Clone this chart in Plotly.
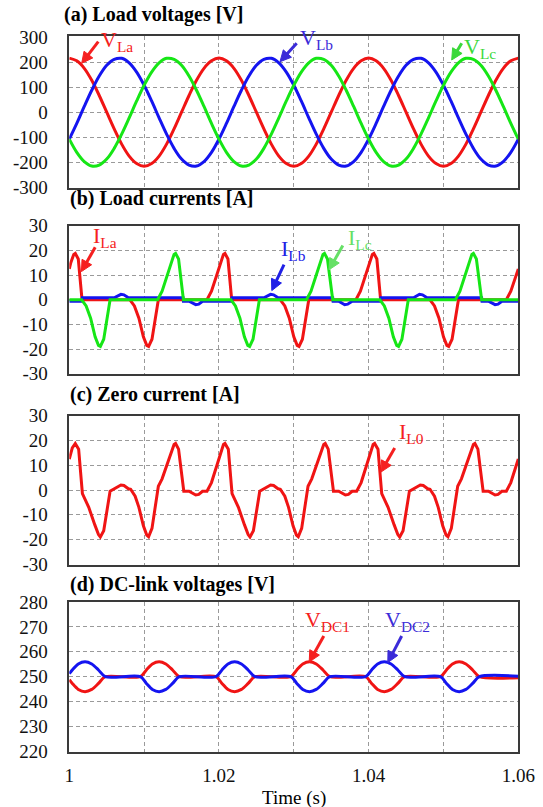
import math
import plotly.graph_objects as go

# ---------------- data (time in ms after t = 1 s) ----------------
t_v_ms = [0, 1, 2, 3, 4, 5, 6, 7, 8, 9, 10, 11, 12, 13, 14, 15, 16, 17, 18, 19,
          20, 21, 22, 23, 24, 25, 26, 27, 28, 29, 30, 31, 32, 33, 34, 35, 36, 37, 38, 39,
          40, 41, 42, 43, 44, 45, 46, 47, 48, 49, 50, 51, 52, 53, 54, 55, 56, 57, 58, 59, 60]
v_la = [217, 206, 176, 128, 67, 0, -67, -128, -176, -206, -217, -206, -176, -128, -67, 0, 67, 128, 176, 206,
        217, 206, 176, 128, 67, 0, -67, -128, -176, -206, -217, -206, -176, -128, -67, 0, 67, 128, 176, 206,
        217, 206, 176, 128, 67, 0, -67, -128, -176, -206, -217, -206, -176, -128, -67, 0, 67, 128, 176, 206, 217]
v_lb = [-108, -45, 23, 88, 145, 188, 212, 216, 198, 161, 108, 45, -23, -88, -145, -188, -212, -216, -198, -161,
        -108, -45, 23, 88, 145, 188, 212, 216, 198, 161, 108, 45, -23, -88, -145, -188, -212, -216, -198, -161,
        -108, -45, 23, 88, 145, 188, 212, 216, 198, 161, 108, 45, -23, -88, -145, -188, -212, -216, -198, -161, -108]
v_lc = [-108, -161, -198, -216, -212, -188, -145, -88, -23, 45, 108, 161, 198, 216, 212, 188, 145, 88, 23, -45,
        -108, -161, -198, -216, -212, -188, -145, -88, -23, 45, 108, 161, 198, 216, 212, 188, 145, 88, 23, -45,
        -108, -161, -198, -216, -212, -188, -145, -88, -23, 45, 108, 161, 198, 216, 212, 188, 145, 88, 23, -45, -108]

t_ila_ms = [0, 0.2, 0.6, 0.8, 1.2, 1.7, 8.1, 8.7, 9.3, 9.9, 10.35, 10.6, 11.05, 11.9,
            18.4, 19.0, 19.6, 20.2, 20.6, 20.8, 21.2, 21.7, 28.2, 28.8, 29.4, 30.0, 30.45, 30.7, 31.15, 32.0,
            38.3, 38.9, 39.5, 40.1, 40.5, 40.7, 41.1, 41.6, 48.2, 48.8, 49.4, 50.0, 50.45, 50.7, 51.15, 52.0,
            58.4, 59.0, 59.6, 60.0]
i_la = [12.5, 15, 18.4, 18.8, 16.5, 0, 0, -2.5, -7.5, -15, -18.5, -18.9, -16, 0,
        0, 3.5, 9, 15, 18.4, 18.8, 16.5, 0, 0, -2.5, -7.5, -15, -18.5, -18.9, -16, 0,
        0, 3.5, 9, 15, 18.4, 18.8, 16.5, 0, 0, -2.5, -7.5, -15, -18.5, -18.9, -16, 0,
        0, 3.5, 9, 12.5]

t_ilb_ms = [0, 1.7, 1.75, 6.0, 6.9, 7.3, 7.9, 15.2, 15.25, 16.0, 16.9, 17.3, 17.8, 21.7,
            21.75, 26.0, 26.9, 27.3, 27.9, 35.2, 35.25, 36.0, 36.8, 37.2, 37.8, 41.6,
            41.65, 46.0, 46.8, 47.2, 47.8, 55.1, 55.15, 56.0, 56.9, 57.3, 57.8, 60.0]
i_lb = [-0.6, -0.6, 0.8, 0.8, 2.2, 2.0, 0.8, 0.8, -0.6, -0.6, -2.0, -1.8, -0.6, -0.6,
        0.8, 0.8, 2.2, 2.0, 0.8, 0.8, -0.6, -0.6, -2.0, -1.8, -0.6, -0.6,
        0.8, 0.8, 2.2, 2.0, 0.8, 0.8, -0.6, -0.6, -2.0, -1.8, -0.6, -0.6]

t_ilc_ms = [0, 1.65, 2.25, 2.85, 3.45, 3.9, 4.15, 4.6, 5.45, 11.8, 12.4, 13.0, 13.6, 14.0, 14.2, 14.6, 15.25,
            21.6, 22.2, 22.8, 23.4, 23.85, 24.1, 24.55, 25.4, 31.7, 32.3, 32.9, 33.5, 33.9, 34.1, 34.5, 35.2,
            41.5, 42.1, 42.7, 43.3, 43.75, 44.0, 44.45, 45.3, 51.6, 52.2, 52.8, 53.4, 53.8, 54.0, 54.4, 55.1, 60.0]
i_lc = [0, 0, -2.5, -7.5, -15, -18.5, -18.9, -16, 0, 0, 3.5, 9, 15, 18.4, 18.8, 16.5, 0,
        0, -2.5, -7.5, -15, -18.5, -18.9, -16, 0, 0, 3.5, 9, 15, 18.4, 18.8, 16.5, 0,
        0, -2.5, -7.5, -15, -18.5, -18.9, -16, 0, 0, 3.5, 9, 15, 18.4, 18.8, 16.5, 0, 0]

t_il0_ms = [0, 0.4, 0.8, 1.25, 1.75, 2.6, 3.4, 3.9, 4.15, 4.6, 5.45, 6.0, 6.9, 7.3, 7.9, 8.2, 8.8, 9.3, 9.9,
            10.35, 10.6, 11.05, 11.9, 12.4, 13.0, 13.6, 14.0, 14.2, 14.6, 15.3, 16.0, 16.9, 17.3, 17.8, 18.4,
            19.0, 19.6, 20.2,
            20.6, 20.8, 21.25, 21.75, 22.6, 23.4, 23.9, 24.15, 24.6, 25.45, 26.0, 26.9, 27.3, 27.9, 28.2, 28.8,
            29.3, 29.9, 30.35, 30.6, 31.05, 31.9, 32.4, 33.0, 33.6, 34.0, 34.2, 34.6, 35.3, 36.0, 36.9, 37.3,
            37.8, 38.4, 39.0, 39.6, 40.2,
            40.6, 40.8, 41.25, 41.75, 42.6, 43.4, 43.9, 44.15, 44.6, 45.45, 46.0, 46.9, 47.3, 47.9, 48.2, 48.8,
            49.3, 49.9, 50.35, 50.6, 51.05, 51.9, 52.4, 53.0, 53.6, 54.0, 54.2, 54.6, 55.3, 56.0, 56.9, 57.3,
            57.8, 58.4, 59.0, 59.6, 60.0]
i_l0 = [12.5, 17, 18.8, 16.5, -1.5, -7, -14, -18, -19, -16.5, -0.5, 0.5, 2.0, 1.8, 0.5, 0.3, -2.5, -7, -14.5,
        -18.2, -18.9, -15.5, 1.5, 4.5, 10, 15.5, 18.4, 18.8, 16.5, -0.5, -0.5, -2.0, -1.8, -0.5, -0.5,
        3.0, 8.5, 14.5,
        18.4, 18.8, 16.5, -1.5, -7, -14, -18, -19, -16.5, -0.5, 0.5, 2.0, 1.8, 0.5, 0.3, -2.5,
        -7, -14.5, -18.2, -18.9, -15.5, 1.5, 4.5, 10, 15.5, 18.4, 18.8, 16.5, -0.5, -0.5, -2.0, -1.8,
        -0.5, -0.5, 3.0, 8.5, 14.5,
        18.4, 18.8, 16.5, -1.5, -7, -14, -18, -19, -16.5, -0.5, 0.5, 2.0, 1.8, 0.5, 0.3, -2.5,
        -7, -14.5, -18.2, -18.9, -15.5, 1.5, 4.5, 10, 15.5, 18.4, 18.8, 16.5, -0.5, -0.5, -2.0, -1.8,
        -0.5, -0.5, 3.0, 8.5, 12.5]

t_dc_ms = [0, 0.4, 1.2, 2.1, 3.0, 3.9, 4.8, 9.5, 10.3, 11.1, 12.0, 12.9, 13.8, 14.7,
           19.6, 20.4, 21.2, 22.1, 23.0, 23.9, 24.8, 29.6, 30.4, 31.2, 32.1, 33.0, 33.9, 34.8,
           39.6, 40.4, 41.2, 42.1, 43.0, 43.9, 44.8, 49.6, 50.4, 51.2, 52.1, 53.0, 53.9, 54.8, 60.0]
v_dc1 = [248.8, 247.3, 244.9, 244, 244.9, 247.3, 250, 250, 252.7, 255.1, 256, 255.1, 252.7, 250,
         250, 247.3, 244.9, 244, 244.9, 247.3, 250, 250, 252.7, 255.1, 256, 255.1, 252.7, 250,
         250, 247.3, 244.9, 244, 244.9, 247.3, 250, 250, 252.7, 255.1, 256, 255.1, 252.7, 250, 249.6]
v_dc2 = [251.2, 252.7, 255.1, 256, 255.1, 252.7, 250, 250, 247.3, 244.9, 244, 244.9, 247.3, 250,
         250, 252.7, 255.1, 256, 255.1, 252.7, 250, 250, 247.3, 244.9, 244, 244.9, 247.3, 250,
         250, 252.7, 255.1, 256, 255.1, 252.7, 250, 250, 247.3, 244.9, 244, 244.9, 247.3, 250, 250.2]

x_label_ticks = [1.00, 1.02, 1.04, 1.06]
x_label_text = ["1", "1.02", "1.04", "1.06"]
ya_ticks = [-300, -200, -100, 0, 100, 200, 300]
yb_ticks = [-30, -20, -10, 0, 10, 20, 30]
yd_ticks = [220, 230, 240, 250, 260, 270, 280]


def sec(ms_list):
    return [1 + m / 1000.0 for m in ms_list]


RED = "#f01414"
BLUE = "#1414f0"
GREEN = "#16e616"
FONT = "Liberation Serif"
W, H = 543, 807

fig = go.Figure()

def line(x, y, color, xa, ya, shape="linear", smooth=None):
    ln = dict(color=color, width=3, shape=shape)
    if smooth is not None:
        ln["smoothing"] = smooth
    fig.add_trace(go.Scatter(x=x, y=y, mode="lines", line=ln, xaxis=xa, yaxis=ya,
                             showlegend=False, hoverinfo="skip"))

line(sec(t_v_ms), v_la, RED, "x", "y", "spline", 1.0)
line(sec(t_v_ms), v_lb, BLUE, "x", "y", "spline", 1.0)
line(sec(t_v_ms), v_lc, GREEN, "x", "y", "spline", 1.0)

line(sec(t_ila_ms), i_la, RED, "x2", "y2")
line(sec(t_ilb_ms), i_lb, BLUE, "x2", "y2")
line(sec(t_ilc_ms), i_lc, GREEN, "x2", "y2")

line(sec(t_il0_ms), i_l0, RED, "x3", "y3")

line(sec(t_dc_ms), v_dc1, RED, "x4", "y4", "spline", 0.8)
line(sec(t_dc_ms), v_dc2, BLUE, "x4", "y4", "spline", 0.8)


def py(p):
    return 1 - p / H

xdom = [69.3 / W, 518.3 / W]
panels = [
    (ya_ticks, [-304, 304], (36.4, 188.0)),
    (yb_ticks, [-30.1, 30.1], (225.5, 374.0)),
    (yb_ticks, [-30.1, 30.1], (415.5, 564.5)),
    (yd_ticks, [219.9, 280.1], (601.7, 751.7)),
]
grid = dict(showgrid=True, gridcolor="#9a9a9a", gridwidth=1, griddash="4px,3px",
            showline=True, linecolor="#3a3a3a", linewidth=1.5, mirror=True,
            zeroline=False, ticks="", automargin=False)
TICKFONT = dict(family=FONT, size=19, color="#111")
for i, (ticks, rng, (top, bot)) in enumerate(panels):
    idx = "" if i == 0 else str(i + 1)
    xa = dict(domain=xdom, range=[1.0, 1.06], anchor="y" + idx, tickfont=TICKFONT,
              ticklabelstandoff=6,
              minor=dict(dtick=0.01, showgrid=True, gridcolor="#9a9a9a",
                         gridwidth=1, griddash="4px,3px", ticks=""),
              **grid)
    if i == 3:
        xa.update(tickvals=x_label_ticks, ticktext=x_label_text, showticklabels=True)
    else:
        xa.update(dtick=0.02, tick0=1.0, showticklabels=False)
    fig.layout["xaxis" + idx] = xa
    fig.layout["yaxis" + idx] = dict(domain=[py(bot), py(top)], range=rng, tickvals=ticks,
                                     ticktext=[str(v) for v in ticks], anchor="x" + idx,
                                     tickfont=TICKFONT, ticklabelstandoff=16, **grid)

ann = []
shapes = []
titles = [("(a) Load voltages [V]", 62.3, 15.0), ("(b) Load currents [A]", 67.5, 198.0),
          ("(c) Zero current [A]", 67.5, 394.6), ("(d) DC-link voltages [V]", 67.5, 584.6)]
for txt, xp, yp in titles:
    ann.append(dict(text="<b>" + txt + "</b>", x=xp / W, y=py(yp), xref="paper", yref="paper",
                    xanchor="left", yanchor="middle", showarrow=False,
                    font=dict(family=FONT, size=20, color="#000")))

ann.append(dict(text="Time (s)", x=293.8 / W, y=py(798), xref="paper", yref="paper",
                xanchor="center", yanchor="middle", showarrow=False,
                font=dict(family=FONT, size=19, color="#000")))

labels = [
    ("V", "La", 99.3, 30.0, "#f52020", (98.3, 41.7), (81.7, 63.3)),
    ("V", "Lb", 298.3, 28.3, "#3b2bd8", (296.7, 43.3), (280.0, 61.7)),
    ("V", "Lc", 461.7, 36.7, "#3ad83a", (461.7, 43.3), (451.7, 60.0)),
    ("I", "La", 90.5, 226.5, "#f52020", (95.2, 247.3), (81.4, 271.6)),
    ("I", "Lb", 278.7, 238.7, "#2020e6", (284.0, 264.6), (271.8, 290.6)),
    ("I", "Lc", 346.3, 228.3, "#66e066", (342.8, 245.6), (329.0, 269.8)),
    ("I", "L0", 396.5, 422.0, "#f52020", (394.7, 447.9), (380.9, 472.1)),
    ("V", "DC1", 303.0, 610.0, "#f52020", (323.8, 636.0), (309.2, 662.0)),
    ("V", "DC2", 382.6, 610.0, "#3b2bd8", (401.7, 636.0), (387.8, 662.6)),
]
HEAD_LEN, HEAD_HALF = 11.0, 5.5
for main, sub, lx, ltop, col, tail, tip in labels:
    ann.append(dict(text=main + "<sub>" + sub + "</sub>", x=lx / W, y=py(ltop - 5),
                    xref="paper", yref="paper", xanchor="left", yanchor="top",
                    showarrow=False, font=dict(family=FONT, size=22, color=col)))
    # arrow drawn as a shaft plus a filled triangular head (pixel geometry -> paper)
    dx, dy = tip[0] - tail[0], tip[1] - tail[1]
    n = math.hypot(dx, dy)
    ux, uy = dx / n, dy / n
    bx, by = tip[0] - ux * HEAD_LEN, tip[1] - uy * HEAD_LEN
    nx, ny = -uy, ux
    shapes.append(dict(type="line", xref="paper", yref="paper",
                       x0=tail[0] / W, y0=py(tail[1]), x1=(bx + ux * 2) / W, y1=py(by + uy * 2),
                       line=dict(color=col, width=3)))
    pts = [(tip[0], tip[1]), (bx + nx * HEAD_HALF, by + ny * HEAD_HALF),
           (bx - nx * HEAD_HALF, by - ny * HEAD_HALF)]
    path = "M " + " L ".join("%.5f,%.5f" % (x / W, py(y)) for x, y in pts) + " Z"
    shapes.append(dict(type="path", xref="paper", yref="paper", path=path,
                       fillcolor=col, line=dict(color=col, width=1)))

fig.update_layout(width=W, height=H, margin=dict(l=0, r=0, t=0, b=0, autoexpand=False),
                  paper_bgcolor="white", plot_bgcolor="white", annotations=ann, shapes=shapes,
                  showlegend=False)

fig.write_html("out.html", config={"displayModeBar": False},
               post_script="document.body.style.margin='0';document.body.style.overflow='hidden';")
